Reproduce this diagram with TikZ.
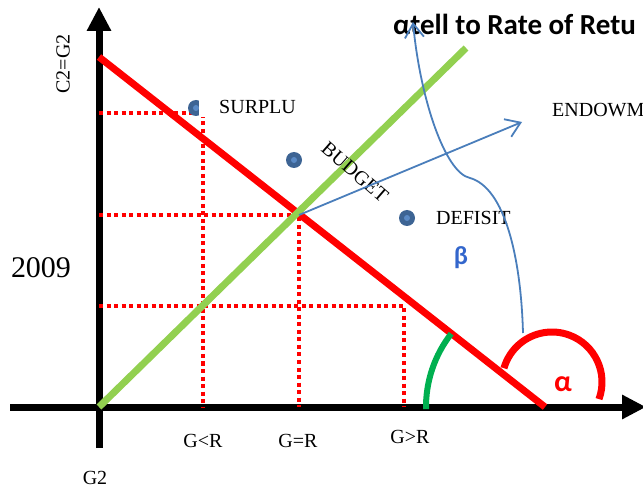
\documentclass[tikz,border=0pt]{standalone}
\usepackage{fontspec}
\setmainfont{Liberation Serif}
\newfontfamily\calibri{Carlito}
\usetikzlibrary{arrows.meta}
\definecolor{budgetred}{RGB}{255,0,0}
\definecolor{linegreen}{RGB}{146,208,80}
\definecolor{arcgreen}{RGB}{0,176,80}
\definecolor{lineblue}{RGB}{74,126,187}
\definecolor{betablue}{RGB}{51,102,204}
\definecolor{dotouter}{RGB}{61,100,148}
\definecolor{dotinner}{RGB}{90,138,198}
\tikzset{
  axis/.style={line width=7pt, -{Triangle[width=23pt,length=24pt]}},
  budgetline/.style={budgetred, line width=7pt},
  growthline/.style={linegreen, line width=7pt},
  guide/.style={budgetred, line width=4pt, dash pattern=on 4pt off 3.5pt},
  blueline/.style={lineblue, line width=1.8pt},
  bluearrow/.style={blueline, -{Straight Barb[length=14pt,width=19pt,line width=1.8pt]}},
  lbl/.style={font=\fontsize{20}{24}\selectfont, inner sep=0pt},
  dotmark/.style={circle, fill=dotouter, minimum size=16pt, inner sep=0pt,
    path picture={\fill[dotinner] (path picture bounding box.center) circle (3pt);}},
}
\begin{document}
\begin{tikzpicture}[x=1pt,y=1pt]
\useasboundingbox (0,0) rectangle (643,488);
% axes
\coordinate (yb) at (99,40);
\coordinate (yt) at (99,481);
\coordinate (xl) at (10,81);
\coordinate (xr) at (646,81);
\coordinate (O) at (99,81);
\draw[axis] (yb) -- (yt);
\draw[axis] (xl) -- (xr);
% guide points
\coordinate (h1a) at (99,375);  \coordinate (h1b) at (203,375); \coordinate (v1b) at (203,81);
\coordinate (h2a) at (99,273);  \coordinate (h2b) at (299,273); \coordinate (v2b) at (299,81);
\coordinate (h3a) at (99,182);  \coordinate (h3b) at (404,182); \coordinate (v3b) at (404,81);
\draw[guide] (h1a) -- (h1b) -- (v1b);
\draw[guide] (h2a) -- (h2b) -- (v2b);
\draw[guide] (h3a) -- (h3b) -- (v3b);
% budget and growth lines
\coordinate (A) at (99,431);
\coordinate (B) at (545,81);
\coordinate (G) at (466,440);
\draw[budgetline] (A) -- (B);
\draw[growthline] (O) -- (G);
% angle arcs
\draw[arcgreen, line width=6pt] (B) ++(181:119) arc[start angle=181, end angle=142, radius=119];
\coordinate (ac) at (552,106);
\draw[budgetred, line width=7pt] (ac) ++(-20:50) arc[start angle=-20, end angle=164, radius=50];
% title
\node[anchor=west, inner sep=0pt, font=\calibri\bfseries\fontsize{29}{33}\selectfont] (title) at (393,464) {αtell to Rate of Retu};
% dots and labels
\node[dotmark] (d1) at (196,380) {};
\node[dotmark] (d2) at (294,328) {};
\node[dotmark] (d3) at (407,270) {};
\node[lbl, anchor=west, fill=white, inner ysep=3pt] (surplus) at (199,381) {\hspace*{20pt}SURPLU};
\node[lbl, rotate=-41] (budget) at (355,316) {BUDGET};
\node[lbl, anchor=west] (endow) at (552,378) {ENDOWM};
\node[lbl, anchor=west] (deficit) at (436,270) {DEFISIT};
\node[font=\fontsize{30}{35}\selectfont, inner sep=0pt] (year) at (41,220) {2009};
\node[lbl, rotate=90] (c2) at (63,424) {C2=G2};
\node[lbl] (g2) at (95,10) {G2};
\node[lbl] (glr) at (203,47) {G<R};
\node[lbl] (geqr) at (298,47) {G=R};
\node[lbl] (ggr) at (410,51) {G>R};
\node[betablue, font=\calibri\bfseries\fontsize{26}{30}\selectfont, inner sep=0pt] (beta) at (461,230) {β};
\node[budgetred, font=\calibri\bfseries\fontsize{30}{34}\selectfont, inner sep=0pt] (alpha) at (563,104) {α};
% blue arrows
\coordinate (I) at (299,273);
\coordinate (E) at (522,366);
\draw[bluearrow] (I) -- (E);
\coordinate (bs) at (523,155);
\coordinate (bk) at (470,310);
\coordinate (bt) at (413,466);
\draw[bluearrow] (bs) .. controls (521,230) and (505,300) .. (bk) .. controls (445,315) and (420,390) .. (bt);
\end{tikzpicture}
\end{document}
